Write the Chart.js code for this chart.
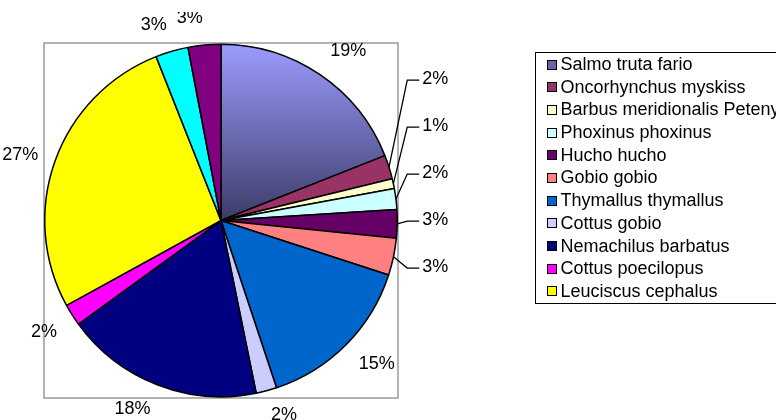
<!DOCTYPE html>
<html>
<head>
<meta charset="utf-8">
<script src="https://cdn.jsdelivr.net/npm/chart.js@4.4.0/dist/chart.umd.min.js"></script>
<style>
    html, body { margin: 0; padding: 0; background: #fff; overflow: hidden; }
    #wrap { position: relative; width: 776px; height: 420px; overflow: hidden; }
    #legend {
        position: absolute; left: 535px; top: 52px; width: 320px; height: 252px;
        border: 1.5px solid #000; box-sizing: border-box;
        font-family: "Liberation Sans", Arial, sans-serif; font-size: 18px; color: #000;
    }
    .item { position: relative; height: 22.7px; line-height: 22.7px; padding-left: 24.5px; white-space: nowrap; }
    .sw { position: absolute; left: 11px; top: 6.5px; width: 8px; height: 8px; border: 1px solid #000; }
</style>
</head>
<body>
<div id="wrap">
    <canvas id="fishPie" width="776" height="420"></canvas>
    <div id="legend"></div>
</div>
<script>
// species (last two slices are not listed in the legend box)
const fishLabels = [
    "Salmo truta fario", "Oncorhynchus myskiss", "Barbus meridionalis Peteny",
    "Phoxinus phoxinus", "Hucho hucho", "Gobio gobio", "Thymallus thymallus",
    "Cottus gobio", "Nemachilus barbatus", "Cottus poecilopus", "Leuciscus cephalus",
    "", ""
];
const fishShares = [19, 2.2, 0.9, 1.9, 2.6, 3.4, 14.9, 1.9, 18.2, 2.0, 27.0, 3.0, 3.0];
const fishColors = [
    "#6666aa", "#993366", "#ffffcc", "#ccffff", "#660066", "#ff8080", "#0066cc",
    "#ccccff", "#000080", "#ff00ff", "#ffff00", "#00ffff", "#800080"
];
const legendCount = 11;

// first slice has the excel-ish vertical gradient
function sliceFill(c) {
    const area = c.chart.chartArea;
    if (c.dataIndex !== 0 || !area) return fishColors[c.dataIndex];
    const g = c.chart.ctx.createLinearGradient(0, area.top, 0, (area.top + area.bottom) / 2);
    g.addColorStop(0, "#9c9cff");
    g.addColorStop(1, "#3c3c68");
    return g;
}

const plotFrame = {
    id: "plotFrame",
    beforeDatasetsDraw(chart) {
        const a = chart.chartArea, ctx = chart.ctx;
        ctx.save();
        ctx.strokeStyle = "#999";
        ctx.lineWidth = 1.5;
        ctx.strokeRect(a.left, a.top, a.width, a.height);
        ctx.restore();
    }
};

const sliceLabels = {
    id: "sliceLabels",
    afterDatasetsDraw(chart) {
        const ctx = chart.ctx;
        const total = fishShares.reduce((s, v) => s + v, 0);
        const arcs = chart.getDatasetMeta(0).data.map((arc, i) => {
            const p = arc.getProps(["x", "y", "startAngle", "endAngle", "outerRadius"], true);
            return { i, p, mid: (p.startAngle + p.endAngle) / 2, text: Math.round(fishShares[i] / total * 100) + "%" };
        });

        ctx.save();
        ctx.beginPath();
        ctx.rect(0, 12, chart.width, chart.height);
        ctx.clip();
        ctx.font = '18px "Liberation Sans", Arial, sans-serif';
        ctx.fillStyle = "#000";
        ctx.strokeStyle = "#000";
        ctx.lineWidth = 1.3;

        // small slices near 3 o'clock get stacked labels with leader lines
        const leader = arcs.filter(s => fishShares[s.i] / total < 0.05 && Math.cos(s.mid) > 0.9);
        const rest = arcs.filter(s => !leader.includes(s));

        leader.sort((a, b) => a.mid - b.mid);
        for (let k = leader.length - 1; k >= 0; k--) {
            const s = leader[k];
            let y = s.p.y + (s.p.outerRadius + 50) * Math.sin(s.mid);
            if (k < leader.length - 1) y = Math.min(y, leader[k + 1].ly - 47);
            s.ly = y;
        }
        ctx.textAlign = "left";
        ctx.textBaseline = "middle";
        leader.forEach(s => {
            const tx = s.p.x + s.p.outerRadius + 25;
            const ex = s.p.x + s.p.outerRadius * Math.cos(s.mid);
            const ey = s.p.y + s.p.outerRadius * Math.sin(s.mid);
            ctx.beginPath();
            ctx.moveTo(tx - 3, s.ly + 1);
            ctx.lineTo(tx - 15, s.ly + 1);
            ctx.lineTo(ex, ey);
            ctx.stroke();
            ctx.fillText(s.text, tx, s.ly);
        });

        // the others sit outside the rim, text box corner pinned to the anchor point
        // (labels pointing mostly sideways are centred vertically on it)
        rest.forEach(s => {
            const d = s.p.outerRadius + 18;
            const c = Math.cos(s.mid), sn = Math.sin(s.mid);
            let ay = s.p.y + d * sn;
            ctx.textAlign = c >= 0 ? "left" : "right";
            if (Math.abs(sn) < 0.4) {
                ctx.textBaseline = "middle";
            } else {
                ctx.textBaseline = sn >= 0 ? "top" : "bottom";
                if (sn >= 0) ay -= 2;
            }
            ctx.fillText(s.text, s.p.x + d * c, ay);
        });
        ctx.restore();
    }
};

new Chart(document.getElementById("fishPie"), {
    type: "pie",
    data: {
        labels: fishLabels,
        datasets: [{
            data: fishShares,
            backgroundColor: sliceFill,
            borderColor: "#000",
            borderWidth: 1.5
        }]
    },
    options: {
        responsive: false,
        animation: false,
        layout: { padding: { left: 44, top: 43, right: 378, bottom: 22 } },
        plugins: { legend: { display: false }, tooltip: { enabled: false } }
    },
    plugins: [plotFrame, sliceLabels]
});

// legend box
let legendBox = document.getElementById("legend");
fishLabels.slice(0, legendCount).forEach((name, i) => {
    legendBox.innerHTML += `
        <div class="item"><span class="sw" style="background:${fishColors[i]}"></span>${name}</div>
    `;
});
</script>
</body>
</html>
